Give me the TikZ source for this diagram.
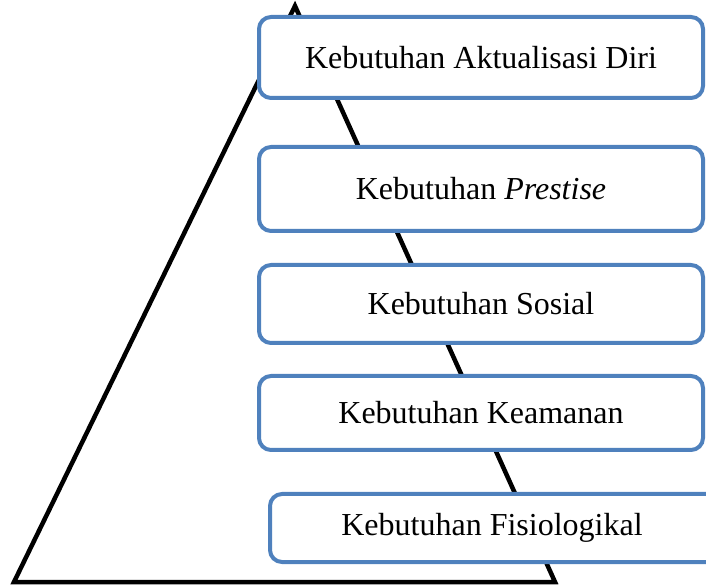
\documentclass[tikz,border=0pt]{standalone}
\usepackage{fontspec}
\setmainfont{Liberation Serif}
\definecolor{boxblue}{HTML}{4F81BD}
\tikzset{
  level/.style={draw=boxblue, line width=4pt, fill=white, rounded corners=12pt,
    rectangle, minimum width=444pt, inner sep=0pt,
    font=\fontsize{32}{38}\selectfont, text=black},
  pyr/.style={draw=black, line width=4.5pt, line join=miter, miter limit=20}
}
\begin{document}
\begin{tikzpicture}[x=1pt,y=1pt]
\clip (0,0) rectangle (706,586);
\coordinate (apex) at (295,580);
\coordinate (bl) at (14,4);
\coordinate (br) at (555,4);
\draw[pyr] (bl) -- (apex) -- (br) -- cycle;
\node[level, minimum height=81pt] (n1) at (481,528.5) {Kebutuhan Aktualisasi Diri};
\node[level, minimum height=84pt] (n2) at (481,397) {Kebutuhan \textit{Prestise}};
\node[level, minimum height=78pt] (n3) at (481,282) {Kebutuhan Sosial};
\node[level, minimum height=74pt] (n4) at (481,173) {Kebutuhan Keamanan};
\node[level, minimum height=68pt, minimum width=460pt] (n5) at (500,58) {Kebutuhan Fisiologikal\hspace*{16pt}};
\end{tikzpicture}
\end{document}
